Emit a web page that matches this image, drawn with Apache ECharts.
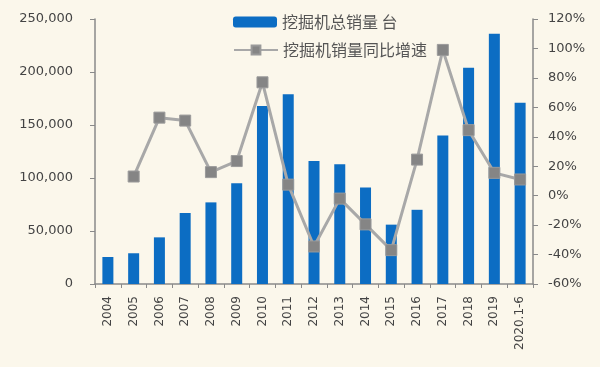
<!DOCTYPE html>
<html>
<head>
<meta charset="utf-8">
<script src="https://cdn.jsdelivr.net/npm/echarts@6/dist/echarts.min.js"></script>
<style>
html,body{margin:0;padding:0;background:#FBF7EB;}
#c{width:600px;height:367px;}
</style>
</head>
<body>
<div id="c"></div>
<script>
const categories = ['2004','2005','2006','2007','2008','2009','2010','2011','2012','2013','2014','2015','2016','2017','2018','2019','2020.1-6'];
const salesValues = [25500, 29000, 44000, 67000, 77000, 95000, 168000, 179000, 116000, 113000, 91000, 56000, 70000, 140000, 204000, 236000, 171000];
const growthValues = [null, 13, 53, 51, 16, 23.5, 77, 7.5, -34.5, -2, -19.5, -37, 24.5, 99, 44.5, 15.5, 11];
const leftTicks = [0, 50000, 100000, 150000, 200000, 250000];
const rightTicks = [-60, -40, -20, 0, 20, 40, 60, 80, 100, 120];
const barName = '挖掘机总销量 台';
const lineName = '挖掘机销量同比增速';

const chart = echarts.init(document.getElementById('c'), null, {renderer:'canvas'});
const axisColor = '#8a8a8a';
const labelColor = '#444';
const fontFamily = 'DejaVu Sans, Verdana, sans-serif';
chart.setOption({
  backgroundColor: '#FBF7EB',
  animation: false,
  legend: [
    {data:[barName], left: 228, top: 9, itemWidth: 44, itemHeight: 11, itemGap: 8,
     textStyle:{fontSize:16, color:'#555', fontFamily:'Noto Sans CJK SC'}},
    {data:[lineName], left: 228, top: 37, itemWidth: 44, itemHeight: 11, itemGap: 8,
     textStyle:{fontSize:16, color:'#555', fontFamily:'Noto Sans CJK SC'}}
  ],
  grid: {left: 95, right: 67, top: 19, bottom: 83, containLabel: false},
  xAxis: {
    type: 'category',
    data: categories,
    boundaryGap: true,
    axisLine: {lineStyle:{color: axisColor, width: 1.5}},
    axisTick: {show:true, alignWithLabel:false, length:4, lineStyle:{color: axisColor}},
    axisLabel: {rotate: 90, interval: 0, margin: 12, color: labelColor, fontSize: 12, fontFamily: fontFamily}
  },
  yAxis: [
    {
      type: 'value', min: leftTicks[0], max: leftTicks[leftTicks.length-1], interval: 50000,
      axisLine: {show:true, lineStyle:{color: axisColor, width: 1.5}},
      axisTick: {show:true, length:5, lineStyle:{color: axisColor}},
      splitLine: {show:false},
      axisLabel: {margin: 22, color: labelColor, fontSize: 13, fontFamily: fontFamily,
        formatter: v => v.toLocaleString('en-US')}
    },
    {
      type: 'value', min: rightTicks[0], max: rightTicks[rightTicks.length-1], interval: 20,
      position: 'right',
      axisLine: {show:true, lineStyle:{color: axisColor, width: 1.5}},
      axisTick: {show:true, length:5, lineStyle:{color: axisColor}},
      splitLine: {show:false},
      axisLabel: {margin: 15, color: labelColor, fontSize: 13, fontFamily: fontFamily,
        formatter: v => v + '%'}
    }
  ],
  series: [
    {
      name: barName, type: 'bar', yAxisIndex: 0, data: salesValues,
      barWidth: 11,
      itemStyle: {color: '#0C6DC3'}
    },
    {
      name: lineName, type: 'line', yAxisIndex: 1, data: growthValues,
      connectNulls: false,
      symbol: 'rect', symbolSize: 11,
      lineStyle: {color: '#A8A8A8', width: 3},
      itemStyle: {color: '#858585', borderColor: '#9a9a9a', borderWidth: 1}
    }
  ]
});
</script>
</body>
</html>
